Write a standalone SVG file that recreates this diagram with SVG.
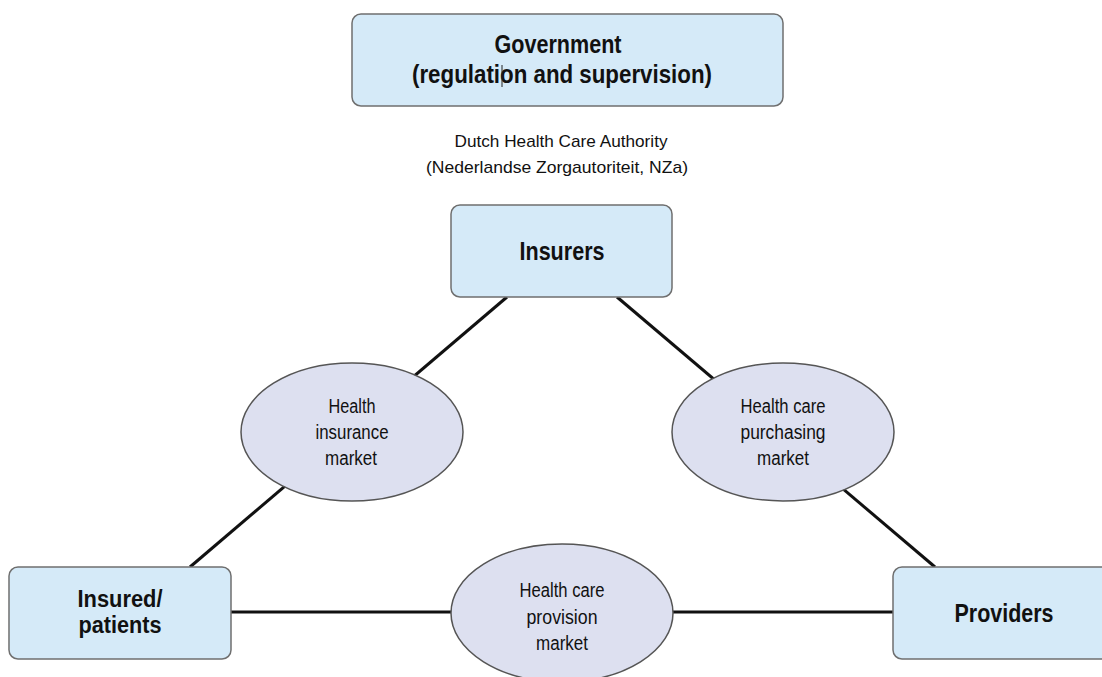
<svg xmlns="http://www.w3.org/2000/svg" width="1102" height="677" viewBox="0 0 1102 677">
<style>
.box{fill:#d5eaf8;stroke:#6f6f6f;stroke-width:1.5}
.ell{fill:#dde0f0;stroke:#555;stroke-width:1.5}
.con{stroke:#111;stroke-width:3;fill:none}
.bt{font-family:"Liberation Sans",Arial,sans-serif;font-weight:bold;font-size:25px;fill:#111;text-anchor:middle}
.bs{font-size:23px}
.et{font-family:"Liberation Sans",Arial,sans-serif;font-size:20px;fill:#111;text-anchor:middle}
.nt{font-family:"Liberation Sans",Arial,sans-serif;font-size:17px;fill:#111;text-anchor:middle}
</style>
<rect width="1102" height="677" fill="#fff"/>
<g id="connectors">
<line class="con" x1="507" y1="297" x2="190" y2="567"/>
<line class="con" x1="617" y1="297" x2="935" y2="567"/>
<line class="con" x1="231" y1="612" x2="893" y2="612"/>
</g>
<g id="government">
<rect class="box" x="352" y="14" width="431" height="92" rx="9"/>
<text class="bt" x="558" y="53" textLength="127" lengthAdjust="spacingAndGlyphs">Government</text>
<text class="bt" x="562" y="83" textLength="300" lengthAdjust="spacingAndGlyphs">(regulation and supervision)</text>
<line x1="502" y1="65" x2="502" y2="87" stroke="#222" stroke-width="1"/>
</g>
<g id="nza">
<text class="nt" x="561" y="147" textLength="213" lengthAdjust="spacingAndGlyphs">Dutch Health Care Authority</text>
<text class="nt" x="557" y="173" textLength="262" lengthAdjust="spacingAndGlyphs">(Nederlandse Zorgautoriteit, NZa)</text>
</g>
<g id="insurers">
<rect class="box" x="451" y="205" width="221" height="92" rx="9"/>
<text class="bt" x="562" y="260" textLength="85" lengthAdjust="spacingAndGlyphs">Insurers</text>
</g>
<g id="insured">
<rect class="box" x="9" y="567" width="222" height="92" rx="9"/>
<text class="bt bs" x="120" y="607" textLength="85" lengthAdjust="spacingAndGlyphs">Insured/</text>
<text class="bt bs" x="120" y="633" textLength="83" lengthAdjust="spacingAndGlyphs">patients</text>
</g>
<g id="providers">
<rect class="box" x="893" y="567" width="222" height="92" rx="9"/>
<text class="bt" x="1004" y="622" textLength="99" lengthAdjust="spacingAndGlyphs">Providers</text>
</g>
<g id="health-insurance-market">
<ellipse class="ell" cx="352" cy="432" rx="111" ry="69"/>
<text class="et" x="352" y="413" textLength="47" lengthAdjust="spacingAndGlyphs">Health</text>
<text class="et" x="352" y="439" textLength="73" lengthAdjust="spacingAndGlyphs">insurance</text>
<text class="et" x="351" y="465" textLength="52" lengthAdjust="spacingAndGlyphs">market</text>
</g>
<g id="health-care-purchasing-market">
<ellipse class="ell" cx="783" cy="432" rx="111" ry="69"/>
<text class="et" x="783" y="413" textLength="85" lengthAdjust="spacingAndGlyphs">Health care</text>
<text class="et" x="783" y="439" textLength="85" lengthAdjust="spacingAndGlyphs">purchasing</text>
<text class="et" x="783" y="465" textLength="52" lengthAdjust="spacingAndGlyphs">market</text>
</g>
<g id="health-care-provision-market">
<ellipse class="ell" cx="562" cy="613" rx="111" ry="69"/>
<text class="et" x="562" y="597" textLength="85" lengthAdjust="spacingAndGlyphs">Health care</text>
<text class="et" x="562" y="624" textLength="71" lengthAdjust="spacingAndGlyphs">provision</text>
<text class="et" x="562" y="650" textLength="52" lengthAdjust="spacingAndGlyphs">market</text>
</g>
</svg>
